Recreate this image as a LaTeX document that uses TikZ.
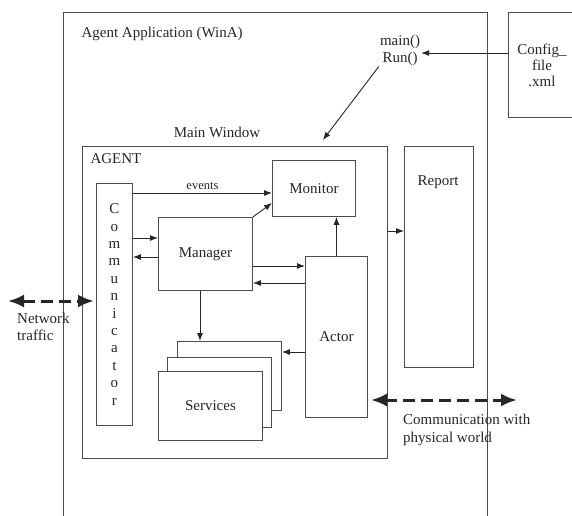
\documentclass[tikz,border=0pt]{standalone}
\usepackage{fontspec}
\setmainfont{Liberation Serif}
\usetikzlibrary{arrows.meta}

\tikzset{
  box/.style={draw=black!70, line width=0.9pt, rectangle, inner sep=0, anchor=north west},
  arr/.style={draw=black!85, line width=0.9pt, -{Latex[length=8pt,width=6pt]}},
  link/.style={draw=black!85, line width=3pt, dash pattern=on 12pt off 6pt,
    {Latex[length=16pt,width=13pt]}-{Latex[length=16pt,width=13pt]}},
}

\begin{document}
\begin{tikzpicture}[x=1pt,y=-1pt,every node/.style={font=\fontsize{15}{17}\selectfont,text=black!85}]
    \useasboundingbox (0,0) rectangle (572,515);
    \clip (0,0) rectangle (572,515);
        % frames that run off the page
        \node[box,minimum width=424pt,minimum height=520pt] (app) at (63,12) {};
        \node[box,minimum width=80pt,minimum height=105pt] (cfg) at (508,12) {};
        \node[align=center,font=\fontsize{15}{16}\selectfont] (cfgtext) at (542,65) {Config\_\\file\\.xml};
        \node[anchor=west] (apptitle) at (78,34) {Agent Application (WinA)};
        \node[align=center,inner sep=1pt] (run) at (400,50) {main()\\Run()};
        \node (mwtitle) at (217,132) {Main Window};

        \node[box,minimum width=305pt,minimum height=312pt] (agent) at (82,146) {};
        \node[anchor=west] (agenttitle) at (87,159) {AGENT};
        \node[box,minimum width=69pt,minimum height=221pt] (report) at (404,146) {};
        \node (reporttext) at (438,182) {Report};

        \node[box,minimum width=83pt,minimum height=56pt] (monitor) at (272,160) {Monitor};
        \node[box,minimum width=36pt,minimum height=242pt,align=center,
              font=\fontsize{15}{17.4}\selectfont] (comm) at (96,183)
              {C\\o\\m\\m\\u\\n\\i\\c\\a\\t\\o\\r};
        \node[box,minimum width=94pt,minimum height=73pt] (manager) at (158,217) {Manager};
        \node[box,minimum width=62pt,minimum height=161pt] (actor) at (305,256) {Actor};
        \node[box,fill=white,minimum width=104pt,minimum height=69pt] (svc3) at (177,341) {};
        \node[box,fill=white,minimum width=104pt,minimum height=70pt] (svc2) at (167,357) {};
        \node[box,fill=white,minimum width=104pt,minimum height=69pt] (svc1) at (158,371) {Services};

    \draw[arr] (cfg.west |- 0,53) -- (run.east |- 0,53);
    \draw[arr] (run.south west) -- ([shift={(-65,-6)}]agent.north east);
    \draw[arr] (comm.east |- 0,193) -- node[above,font=\fontsize{12.5}{14}\selectfont] (events) {events} (monitor.west |- 0,193);
    \draw[arr] (comm.east |- 0,238) -- (manager.west |- 0,238);
    \draw[arr] (manager.west |- 0,257) -- (comm.east |- 0,257);
    \draw[arr] (manager.north east) -- (monitor.south west |- 0,203);
    \draw[arr] (manager.east |- 0,266) -- (actor.west |- 0,266);
    \draw[arr] (actor.west |- 0,283) -- (manager.east |- 0,283);
    \draw[arr] (manager.south -| 200,0) -- (svc3.north -| 200,0);
    \draw[arr] (actor.west |- 0,352) -- (svc3.east |- 0,352);
    \draw[arr] (actor.north) -- (actor.north |- monitor.south);
    \draw[arr] (agent.east |- 0,231) -- (report.west |- 0,231);

    % traffic in and out
    \coordinate (net) at (8,301);
    \draw[link] (net) -- ([xshift=-2pt]comm.west |- net);
    \node[anchor=base west,align=left,inner sep=0] (nettext) at (17,340) {Network\\traffic};
    \coordinate (phys) at (517,400);
    \draw[link] ([xshift=3pt]actor.east |- phys) -- (phys);
    \node[anchor=base west,align=left,inner sep=0,font=\fontsize{15}{18}\selectfont] (phystext) at (403,442) {Communication with\\physical world};
\end{tikzpicture}
\end{document}
